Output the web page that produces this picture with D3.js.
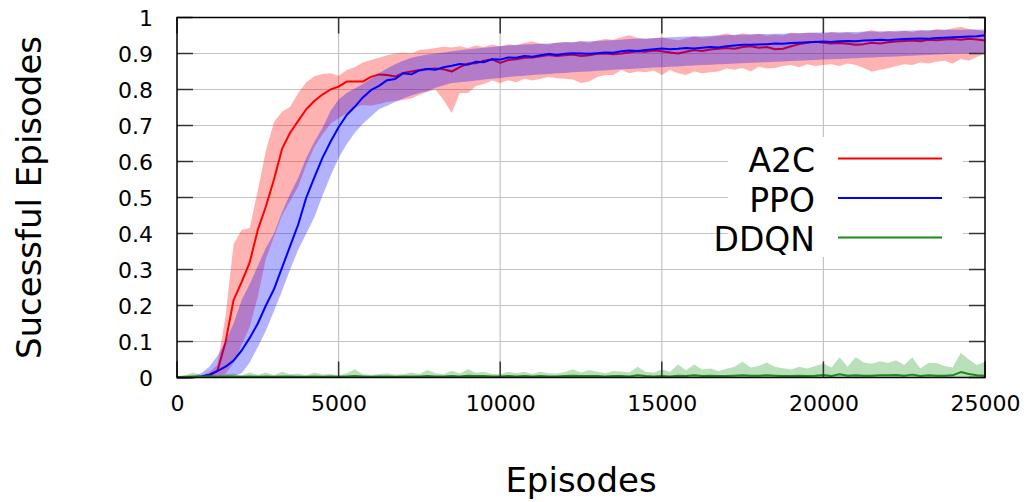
<!DOCTYPE html>
<html>
<head>
<meta charset="utf-8">
<script src="https://cdn.jsdelivr.net/npm/d3@7"></script>
<style>
  html, body { margin: 0; padding: 0; background: #fff; }
  svg { display: block; font-family: "DejaVu Sans", sans-serif; }
</style>
</head>
<body>
<svg id="chart" width="1031" height="502"></svg>
<script>
// ---------------- DATA ----------------
const episodes = d3.range(0, 25001, 250);
const xTicks = [0, 5000, 10000, 15000, 20000, 25000];
const yTicks = [0, 0.1, 0.2, 0.3, 0.4, 0.5, 0.6, 0.7, 0.8, 0.9, 1];
const seriesNames = ["A2C", "PPO", "DDQN"];

const a2c = [
  0, 0, 0.001, 0.002, 0.005, 0.018, 0.098, 0.215, 0.265, 0.32,
  0.41, 0.475, 0.55, 0.635, 0.68, 0.713, 0.745, 0.768, 0.786, 0.8,
  0.808, 0.822, 0.822, 0.822, 0.835, 0.842, 0.84, 0.836, 0.846, 0.85,
  0.854, 0.857, 0.858, 0.856, 0.85, 0.862, 0.872, 0.873, 0.88, 0.884,
  0.874, 0.882, 0.884, 0.888, 0.889, 0.892, 0.896, 0.893, 0.895, 0.897,
  0.893, 0.895, 0.899, 0.9, 0.898, 0.9, 0.903, 0.906, 0.905, 0.908,
  0.906, 0.903, 0.9, 0.905, 0.91, 0.907, 0.911, 0.913, 0.915, 0.913,
  0.918, 0.92, 0.916, 0.918, 0.912, 0.913, 0.92, 0.926, 0.93, 0.933,
  0.93, 0.928, 0.929, 0.927, 0.924, 0.926, 0.93, 0.928, 0.931, 0.933,
  0.935, 0.936, 0.934, 0.938, 0.937, 0.939, 0.94, 0.938, 0.941, 0.939,
  0.936
];
const a2cHi = [
  0.002, 0.002, 0.003, 0.006, 0.015, 0.035, 0.17, 0.37, 0.41, 0.415,
  0.52, 0.63, 0.71, 0.738, 0.752, 0.79, 0.82, 0.837, 0.843, 0.845,
  0.838, 0.854, 0.862, 0.875, 0.882, 0.888, 0.895, 0.9, 0.903, 0.9,
  0.91, 0.912, 0.915, 0.919, 0.917, 0.92, 0.915, 0.922, 0.918, 0.925,
  0.92, 0.926, 0.922, 0.93, 0.933, 0.928, 0.925, 0.93, 0.932, 0.93,
  0.935, 0.93, 0.936, 0.94, 0.938, 0.945, 0.951, 0.944, 0.94, 0.942,
  0.945, 0.94, 0.937, 0.942, 0.948, 0.944, 0.946, 0.95, 0.956, 0.95,
  0.956, 0.952, 0.955, 0.949, 0.953, 0.95, 0.958, 0.955, 0.958, 0.957,
  0.955, 0.96, 0.956, 0.958, 0.954, 0.96, 0.965, 0.958, 0.962, 0.96,
  0.963, 0.96, 0.965, 0.962, 0.968, 0.965, 0.97, 0.974, 0.968, 0.965,
  0.962
];
const a2cLo = [
  0, 0, 0, 0, 0, 0.002, 0.01, 0.04, 0.09, 0.14,
  0.225, 0.33, 0.39, 0.45, 0.49, 0.53, 0.59, 0.64, 0.675, 0.705,
  0.72, 0.734, 0.75, 0.757, 0.755, 0.76, 0.765, 0.768, 0.771, 0.775,
  0.785, 0.794, 0.8, 0.77, 0.735, 0.79, 0.79, 0.81, 0.815, 0.825,
  0.818, 0.826, 0.82, 0.83, 0.825, 0.83, 0.835, 0.831, 0.83, 0.828,
  0.818, 0.822, 0.835, 0.84, 0.84, 0.854, 0.845, 0.85, 0.848, 0.853,
  0.84, 0.854, 0.845, 0.84, 0.85, 0.845, 0.848, 0.85, 0.858, 0.855,
  0.86, 0.85, 0.863, 0.858, 0.86, 0.865, 0.868, 0.862, 0.87, 0.865,
  0.868, 0.87, 0.865, 0.872, 0.868, 0.86, 0.849, 0.855, 0.859, 0.865,
  0.87, 0.868, 0.875, 0.872, 0.877, 0.88, 0.872, 0.885, 0.88, 0.89,
  0.9
];
const ppo = [
  0, 0, 0.001, 0.003, 0.008, 0.018, 0.03, 0.047, 0.075, 0.11,
  0.15, 0.2, 0.245, 0.305, 0.365, 0.425, 0.5, 0.556, 0.61, 0.655,
  0.695, 0.729, 0.752, 0.778, 0.798, 0.81, 0.826, 0.829, 0.845, 0.842,
  0.853, 0.857, 0.855, 0.862, 0.866, 0.871, 0.869, 0.877, 0.876, 0.884,
  0.883, 0.889, 0.888, 0.893, 0.891, 0.895, 0.899, 0.896, 0.899, 0.901,
  0.9, 0.899, 0.901, 0.903, 0.902, 0.906, 0.908, 0.907, 0.91, 0.912,
  0.914, 0.912, 0.913, 0.915, 0.914, 0.916, 0.918, 0.917, 0.92, 0.922,
  0.924, 0.924, 0.925, 0.926, 0.928, 0.927, 0.929, 0.93, 0.931, 0.932,
  0.933, 0.932, 0.934, 0.935, 0.934, 0.936, 0.937, 0.938, 0.937, 0.939,
  0.94, 0.941, 0.942, 0.941, 0.943, 0.944, 0.945, 0.946, 0.947, 0.948,
  0.951
];
const ppoHi = [
  0.002, 0.003, 0.005, 0.012, 0.03, 0.06, 0.1, 0.15, 0.215, 0.26,
  0.31, 0.36, 0.4, 0.46, 0.51, 0.555, 0.61, 0.655, 0.693, 0.74,
  0.772, 0.79, 0.803, 0.815, 0.83, 0.845, 0.858, 0.87, 0.88, 0.888,
  0.893, 0.897, 0.9, 0.903, 0.906, 0.909, 0.912, 0.914, 0.916, 0.918,
  0.92, 0.922, 0.924, 0.925, 0.926, 0.927, 0.928, 0.93, 0.931, 0.932,
  0.933, 0.934, 0.935, 0.936, 0.937, 0.938, 0.94, 0.941, 0.942, 0.943,
  0.944, 0.945, 0.946, 0.947, 0.947, 0.948, 0.949, 0.95, 0.951, 0.952,
  0.952, 0.953, 0.954, 0.954, 0.955, 0.955, 0.956, 0.957, 0.957, 0.958,
  0.958, 0.959, 0.959, 0.96, 0.96, 0.961, 0.961, 0.962, 0.962, 0.963,
  0.963, 0.964, 0.964, 0.965, 0.965, 0.966, 0.966, 0.966, 0.967, 0.967,
  0.967
];
const ppoLo = [
  0, 0, 0, 0, 0, 0, 0.002, 0.005, 0.012, 0.042,
  0.085, 0.13, 0.185, 0.24, 0.3, 0.355, 0.4, 0.445, 0.505, 0.56,
  0.61, 0.648, 0.68, 0.705, 0.725, 0.745, 0.755, 0.765, 0.775, 0.783,
  0.79, 0.795, 0.805, 0.812, 0.818, 0.82, 0.822, 0.825, 0.828, 0.83,
  0.832, 0.835, 0.837, 0.838, 0.84, 0.842, 0.843, 0.845, 0.846, 0.848,
  0.849, 0.85, 0.852, 0.853, 0.855, 0.856, 0.857, 0.858, 0.86, 0.861,
  0.862, 0.863, 0.864, 0.866, 0.867, 0.868, 0.869, 0.87, 0.871, 0.872,
  0.873, 0.874, 0.875, 0.876, 0.877, 0.878, 0.879, 0.88, 0.881, 0.882,
  0.883, 0.884, 0.885, 0.886, 0.887, 0.888, 0.889, 0.89, 0.891, 0.892,
  0.893, 0.894, 0.895, 0.896, 0.897, 0.898, 0.899, 0.9, 0.9, 0.901,
  0.902
];
const ddqn = [
  0.001, 0.002, 0.003, 0.002, 0.003, 0.002, 0.003, 0.003, 0.002, 0.003,
  0.002, 0.003, 0.002, 0.003, 0.003, 0.002, 0.002, 0.003, 0.002, 0.003,
  0.002, 0.003, 0.004, 0.003, 0.002, 0.003, 0.003, 0.002, 0.003, 0.003,
  0.003, 0.004, 0.003, 0.003, 0.004, 0.003, 0.005, 0.004, 0.004, 0.003,
  0.003, 0.004, 0.003, 0.004, 0.003, 0.004, 0.003, 0.003, 0.004, 0.005,
  0.004, 0.004, 0.004, 0.003, 0.004, 0.004, 0.003, 0.006, 0.004, 0.003,
  0.004, 0.003, 0.005, 0.004, 0.006, 0.004, 0.005, 0.004, 0.004, 0.005,
  0.006, 0.005, 0.005, 0.006, 0.005, 0.004, 0.004, 0.005, 0.004, 0.005,
  0.007, 0.004, 0.009, 0.005, 0.006, 0.005, 0.005, 0.006, 0.006, 0.007,
  0.005, 0.008, 0.004, 0.006, 0.005, 0.005, 0.006, 0.015, 0.01, 0.006,
  0.005
];
const ddqnHi = [
  0.003, 0.006, 0.014, 0.006, 0.008, 0.005, 0.009, 0.011, 0.006, 0.014,
  0.007, 0.014, 0.006, 0.016, 0.009, 0.011, 0.006, 0.014, 0.008, 0.01,
  0.006, 0.012, 0.023, 0.009, 0.007, 0.01, 0.012, 0.008, 0.009, 0.014,
  0.01, 0.021, 0.012, 0.009, 0.019, 0.011, 0.023, 0.013, 0.016, 0.01,
  0.009, 0.016, 0.012, 0.016, 0.01, 0.016, 0.012, 0.011, 0.015, 0.023,
  0.014, 0.021, 0.016, 0.012, 0.018, 0.016, 0.014, 0.03, 0.016, 0.013,
  0.023, 0.015, 0.036, 0.02, 0.036, 0.022, 0.025, 0.018, 0.024, 0.03,
  0.044, 0.028, 0.032, 0.042, 0.03, 0.026, 0.022, 0.03, 0.025, 0.032,
  0.039, 0.028, 0.056, 0.03, 0.057, 0.042, 0.038, 0.045, 0.04, 0.048,
  0.035, 0.056, 0.025, 0.04, 0.04, 0.032, 0.028, 0.069, 0.05, 0.035,
  0.044
];
const ddqnLo = [
  0, 0, 0, 0, 0, 0, 0, 0, 0, 0,
  0, 0, 0, 0, 0, 0, 0, 0, 0, 0,
  0, 0, 0, 0, 0, 0, 0, 0, 0, 0,
  0, 0, 0, 0, 0, 0, 0, 0, 0, 0,
  0, 0, 0, 0, 0, 0, 0, 0, 0, 0,
  0, 0, 0, 0, 0, 0, 0, 0, 0, 0,
  0, 0, 0, 0, 0, 0, 0, 0, 0, 0,
  0, 0, 0, 0, 0, 0, 0, 0, 0, 0,
  0, 0, 0, 0, 0, 0, 0, 0, 0, 0,
  0, 0, 0, 0, 0, 0, 0, 0, 0, 0,
  0
];

// ---------------- LAYOUT ----------------
const svg = d3.select("#chart");
const L = 177, R = 985, T = 17.5, B = 377.5;
const x = d3.scaleLinear().domain([0, 25000]).range([L, R]);
const y = d3.scaleLinear().domain([0, 1]).range([B, T]);

const series = [
  { name: seriesNames[0], mean: a2c, hi: a2cHi, lo: a2cLo, line: "#ff0000", band: "rgba(255,0,0,0.3)" },
  { name: seriesNames[1], mean: ppo, hi: ppoHi, lo: ppoLo, line: "#0000ff", band: "rgba(0,0,255,0.3)" },
  { name: seriesNames[2], mean: ddqn, hi: ddqnHi, lo: ddqnLo, line: "#1a8a1a", band: "rgba(0,140,0,0.27)" }
];

// grid
const grid = svg.append("g");
grid.selectAll("line.gx").data(xTicks.slice(1, -1)).join("line")
  .attr("x1", d => x(d)).attr("x2", d => x(d))
  .attr("y1", T).attr("y2", B)
  .attr("stroke", "#c4c4c4").attr("stroke-width", 1.2);
grid.selectAll("line.gy").data(yTicks.slice(1, -1)).join("line")
  .attr("x1", L).attr("x2", R)
  .attr("y1", d => y(d)).attr("y2", d => y(d))
  .attr("stroke", "#c4c4c4").attr("stroke-width", 1.2);

// data
const plot = svg.append("g");
series.forEach(s => {
  const rows = episodes.map((e, i) => ({ e, m: s.mean[i], h: s.hi[i], l: s.lo[i] }));
  plot.append("path").datum(rows)
    .attr("fill", s.band).attr("stroke", "none")
    .attr("d", d3.area().x(d => x(d.e)).y0(d => y(d.l)).y1(d => y(d.h)));
  plot.append("path").datum(rows)
    .attr("fill", "none").attr("stroke", s.line).attr("stroke-width", 2)
    .attr("stroke-linejoin", "round")
    .attr("d", d3.line().x(d => x(d.e)).y(d => y(d.m)));
});

// legend box
const lg = svg.append("g");
lg.append("rect").attr("x", 728).attr("y", 137).attr("width", 235).attr("height", 120).attr("fill", "#fff");
series.forEach((s, i) => {
  const cy = 158.5 + i * 39.5;
  lg.append("text").attr("x", 815).attr("y", cy + 13.5)
    .attr("text-anchor", "end").attr("font-size", 33).attr("fill", "#000").text(s.name);
  lg.append("line").attr("x1", 838).attr("x2", 942).attr("y1", cy).attr("y2", cy)
    .attr("stroke", s.line).attr("stroke-width", 2);
});

// ticks (inward, mirrored)
const tk = svg.append("g").attr("stroke", "#333").attr("stroke-width", 1.5);
yTicks.forEach(v => {
  tk.append("line").attr("x1", L).attr("x2", L + 16).attr("y1", y(v)).attr("y2", y(v));
  tk.append("line").attr("x1", R).attr("x2", R - 16).attr("y1", y(v)).attr("y2", y(v));
});
xTicks.forEach(v => {
  tk.append("line").attr("x1", x(v)).attr("x2", x(v)).attr("y1", B).attr("y2", B - 16);
  tk.append("line").attr("x1", x(v)).attr("x2", x(v)).attr("y1", T).attr("y2", T + 16);
});

// border
svg.append("rect").attr("x", L).attr("y", T).attr("width", R - L).attr("height", B - T)
  .attr("fill", "none").attr("stroke", "#000").attr("stroke-width", 1.5);

// tick labels
const yAxis = d3.axisLeft(y).tickValues(yTicks).tickFormat(d3.format("~g")).tickSize(0).tickPadding(24);
const gy = svg.append("g").attr("transform", `translate(${L},0)`).call(yAxis);
gy.select(".domain").remove();
gy.selectAll("text").attr("font-size", 22).attr("font-family", "DejaVu Sans").attr("fill", "#000").attr("dy", "0.36em");

const xAxis = d3.axisBottom(x).tickValues(xTicks).tickFormat(d3.format("d")).tickSize(0).tickPadding(33);
const gx = svg.append("g").attr("transform", `translate(0,${B})`).call(xAxis);
gx.select(".domain").remove();
gx.selectAll("text").attr("font-size", 22).attr("font-family", "DejaVu Sans").attr("fill", "#000").attr("dy", "0");

// axis titles
svg.append("text").attr("x", (L + R) / 2).attr("y", 492).attr("text-anchor", "middle")
  .attr("font-size", 34).attr("fill", "#000").text("Episodes");
svg.append("text").attr("transform", `translate(41,${(T + B) / 2}) rotate(-90)`).attr("text-anchor", "middle")
  .attr("font-size", 34).attr("fill", "#000").text("Sucessful Episodes");
</script>
</body>
</html>
